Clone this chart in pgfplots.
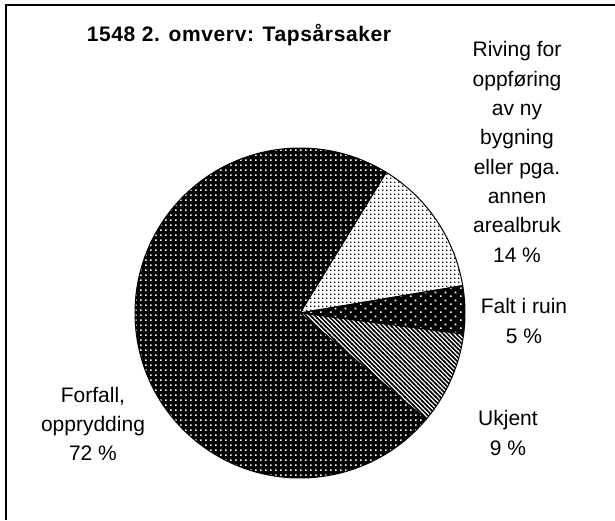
\documentclass[border=0pt]{standalone}
\usepackage{pgfplots}
\pgfplotsset{compat=1.18}
\usepackage{pgfplotstable}
\usepackage{fontspec}
\setmainfont{Liberation Sans}
\newfontfamily\titlefont[LetterSpace=3]{Liberation Sans}
\usetikzlibrary{patterns}

\pgfdeclarepatternformonly{densedots}{\pgfqpoint{0pt}{0pt}}{\pgfqpoint{3.6pt}{3.6pt}}{\pgfqpoint{3.6pt}{3.6pt}}{%
  \pgfpathrectangle{\pgfqpoint{0pt}{0pt}}{\pgfqpoint{1.6pt}{1.6pt}}\pgfusepath{fill}}
\pgfdeclarepatternformonly{griddots}{\pgfqpoint{0pt}{0pt}}{\pgfqpoint{5pt}{5pt}}{\pgfqpoint{5pt}{5pt}}{%
  \pgfpathrectangle{\pgfqpoint{0pt}{0pt}}{\pgfqpoint{1.8pt}{1.8pt}}\pgfusepath{fill}}
\pgfdeclarepatternformonly{staggerdots}{\pgfqpoint{0pt}{0pt}}{\pgfqpoint{10pt}{8pt}}{\pgfqpoint{10pt}{8pt}}{%
  \pgfpathrectangle{\pgfqpoint{0pt}{0pt}}{\pgfqpoint{1.9pt}{1.9pt}}%
  \pgfpathrectangle{\pgfqpoint{5pt}{4pt}}{\pgfqpoint{1.9pt}{1.9pt}}\pgfusepath{fill}}
\pgfdeclarepatternformonly{diagstripes}{\pgfqpoint{-1pt}{-1pt}}{\pgfqpoint{5.4pt}{5.4pt}}{\pgfqpoint{4.4pt}{4.4pt}}{%
  \pgfsetlinewidth{1.5pt}%
  \pgfpathmoveto{\pgfqpoint{-0.7pt}{5.1pt}}\pgfpathlineto{\pgfqpoint{5.1pt}{-0.7pt}}\pgfusepath{stroke}}

\tikzset{
  bg0/.style={fill=white}, pat0/.style={pattern=densedots, pattern color=black},
  bg1/.style={fill=black}, pat1/.style={pattern=staggerdots, pattern color=white},
  bg2/.style={fill=white}, pat2/.style={pattern=diagstripes, pattern color=black},
  bg3/.style={fill=black}, pat3/.style={pattern=griddots, pattern color=white},
}

% shares of the losses (percent), clockwise from the "Riving" slice
\pgfplotstableread{
label   pct
Riving  13.6
Falt    4.7
Ukjent  9.1
Forfall 72.6
}\piedata

\begin{document}
\begin{tikzpicture}
\path[use as bounding box] (0,0) rectangle (615pt,520pt);
\begin{axis}[
  at={(0pt,0pt)}, anchor=south west,
  scale only axis, width=615pt, height=520pt,
  xmin=0, xmax=615, ymin=0, ymax=520,
  hide axis, clip=false,
]
\pgfplotsextra{%
  \xdef\angA{58.5}%
  \foreach \i in {0,1,2,3}{%
    \pgfplotstablegetelem{\i}{pct}\of\piedata
    \pgfmathsetmacro\angB{\angA-3.6*\pgfplotsretval}%
    \fill[bg\i] (axis cs:300,207) -- ++(\angA:165pt) arc[start angle=\angA, end angle=\angB, radius=165pt] -- cycle;
    \fill[pat\i] (axis cs:300,207) -- ++(\angA:165pt) arc[start angle=\angA, end angle=\angB, radius=165pt] -- cycle;
    \draw[black, line width=1pt, line join=round] (axis cs:300,207) -- ++(\angA:165pt) arc[start angle=\angA, end angle=\angB, radius=165pt] -- cycle;
    \xdef\angA{\angB}%
  }%
}
% frame (top and left edges visible)
\draw[black, line width=2pt] (axis cs:6,0) -- (axis cs:6,515) -- (axis cs:615,515);
% title
\node[anchor=base, inner sep=0pt, font=\titlefont\fontsize{21}{25}\selectfont\bfseries] at (axis cs:239,478) {1548 2. omverv: Tapsårsaker};
% labels (anchor = baseline of the last line)
\node[anchor=base, inner sep=0pt, align=center, font=\fontsize{21}{29.3}\selectfont] at (axis cs:517,258)
  {Riving for\\oppføring\\av ny\\bygning\\eller pga.\\annen\\arealbruk\\14 \%};
\node[anchor=base, inner sep=0pt, align=center, font=\fontsize{21}{30}\selectfont] at (axis cs:524,177)
  {Falt i ruin\\5 \%};
\node[anchor=base, inner sep=0pt, align=center, font=\fontsize{21}{30}\selectfont] at (axis cs:508,65)
  {Ukjent\\9 \%};
\node[anchor=base, inner sep=0pt, align=center, font=\fontsize{21}{29}\selectfont] at (axis cs:93,60)
  {Forfall,\\opprydding\\72 \%};
\end{axis}
\end{tikzpicture}
\end{document}
